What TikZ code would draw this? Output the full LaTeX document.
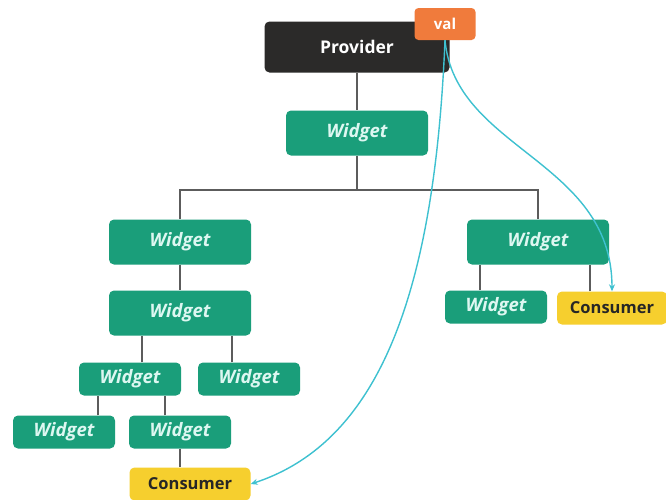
\documentclass[tikz,border=0pt]{standalone}
\usepackage{fontspec}
\setmainfont{Open Sans}
\usetikzlibrary{arrows.meta}
\definecolor{provbg}{HTML}{2B2A29}
\definecolor{valbg}{HTML}{F07B3C}
\definecolor{widgbg}{HTML}{1A9E7A}
\definecolor{widgtx}{HTML}{DDF7F1}
\definecolor{consbg}{HTML}{F6CF2E}
\definecolor{treeln}{HTML}{5C5C5C}
\definecolor{flowln}{HTML}{3EC1D0}
\tikzset{
  widgbox/.style={fill=widgbg, text=widgtx, rounded corners=5pt, font=\bfseries\itshape\fontsize{18.5}{18.5}\selectfont, minimum width=142pt, minimum height=45pt},
  widgsmall/.style={widgbox, minimum width=102pt, minimum height=33pt},
  consbox/.style={fill=consbg, text=black!85, rounded corners=5pt, font=\bfseries\fontsize{16.5}{16.5}\selectfont, minimum width=121pt, minimum height=33pt},
  treeline/.style={draw=treeln, line width=1.6pt},
  flowline/.style={draw=flowln, line width=1.4pt, -{Stealth[length=7pt,width=6pt]}}
}
\begin{document}
\begin{tikzpicture}[x=1pt, y=-1pt]
      \useasboundingbox[fill=white] (0,0) rectangle (666,499);
      % top
      \node[fill=provbg, text=white, rounded corners=5pt, font=\bfseries\fontsize{17.5}{17.5}\selectfont, minimum width=185pt, minimum height=51pt] (prov) at (357,47) {Provider};
      \node[widgbox] (w1) at (357,133) {Widget};
      \coordinate (bar) at (357,190);
      % left branch
      \node[widgbox] (wa) at (180,242) {Widget};
      \node[widgbox] (wc) at (180,313) {Widget};
      \node[widgsmall] (wd) at (130,379) {Widget};
      \node[widgsmall] (we) at (249,379) {Widget};
      \node[widgsmall] (wf) at (64,432) {Widget};
      \node[widgsmall] (wg) at (180,432) {Widget};
      \node[consbox] (cons1) at (190,484) {Consumer};
      % right branch
      \node[widgbox] (wb) at (538,242) {Widget};
      \node[widgsmall] (wh) at (496,307) {Widget};
      \node[consbox, minimum width=110pt] (cons2) at (612,308) {Consumer};
      % tree lines
      \draw[treeline] (prov) -- (w1);
      \draw[treeline] (w1) -- (bar) -| (wa);
      \draw[treeline] (bar) -| (wb);
      \draw[treeline] (wa) -- (wc);
      \draw[treeline] ([xshift=12pt]wd.north) -- ([xshift=12pt]wd.north |- wc.south);
      \draw[treeline] ([xshift=-17pt]we.north) -- ([xshift=-17pt]we.north |- wc.south);
      \draw[treeline] ([xshift=34pt]wf.north) -- ([xshift=34pt]wf.north |- wd.south);
      \draw[treeline] ([xshift=-15pt]wg.north) -- ([xshift=-15pt]wg.north |- wd.south);
      \draw[treeline] (wg) -- (wg |- cons1.north);
      \draw[treeline] ([xshift=-16pt]wh.north) -- ([xshift=-16pt]wh.north |- wb.south);
      \draw[treeline] ([xshift=-22pt]cons2.north) -- ([xshift=-22pt]cons2.north |- wb.south);
      % val badge
      \node[fill=valbg, text=white, rounded corners=4pt, font=\bfseries\fontsize{15}{15}\selectfont, minimum width=61pt, minimum height=32pt] (val) at (445,24) {val};
      % value flow
      \draw[flowline] (val.south) .. controls (435,280) and (385,440) .. (cons1.east);
      \draw[flowline] (val.south) .. controls (455,150) and (612,160) .. (cons2.north);
    \end{tikzpicture}
\end{document}
